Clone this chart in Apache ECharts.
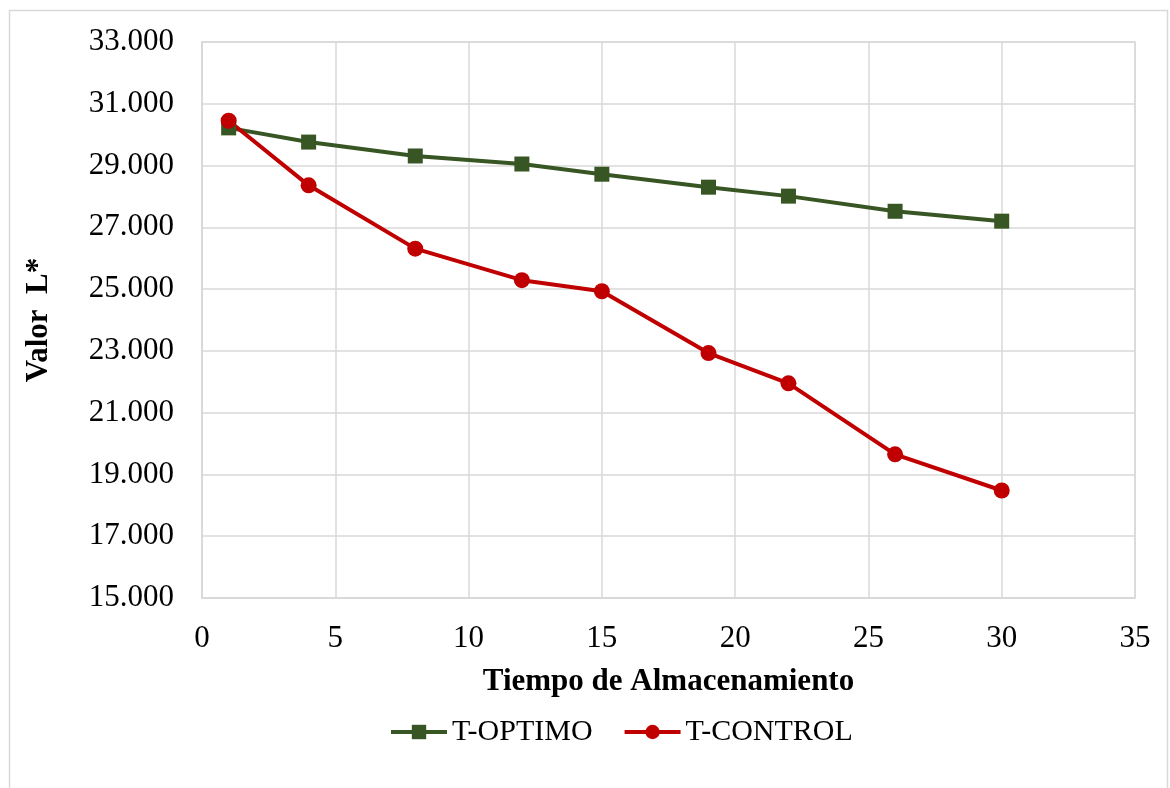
<!DOCTYPE html>
<html>
<head>
<meta charset="utf-8">
<script src="https://cdn.jsdelivr.net/npm/echarts@6/dist/echarts.min.js"></script>
<style>
  html, body { margin: 0; padding: 0; background: #fff; }
  #chart { width: 1170px; height: 788px; }
</style>
</head>
<body>
<div id="chart"></div>
<script>
// dias de almacenamiento
const dias = [1, 4, 8, 12, 15, 19, 22, 26, 30];
const tOptimo = [30.22, 29.76, 29.31, 29.05, 28.72, 28.30, 28.01, 27.52, 27.20];
const tControl = [30.45, 28.36, 26.31, 25.29, 24.93, 22.93, 21.95, 19.65, 18.48];

const toPairs = (xs, ys) => xs.map((x, i) => [x, ys[i]]);

const font = '"Liberation Serif", "Times New Roman", serif';
const gridColor = '#d9d9d9';

const chart = echarts.init(document.getElementById('chart'));
chart.setOption({
  animation: false,
  backgroundColor: '#fff',
  textStyle: { fontFamily: font, color: '#000' },
  graphic: [{
    type: 'rect',
    shape: { x: 9.5, y: 10.5, width: 1158, height: 800 },
    style: { fill: 'none', stroke: gridColor, lineWidth: 1.5 },
    silent: true
  }],
  grid: { left: 202, right: 35, top: 42, bottom: 190, show: true, borderColor: gridColor, borderWidth: 1.5 },
  legend: {
    bottom: 36,
    left: 384,
    itemWidth: 56,
    itemHeight: 18,
    itemGap: 30,
    lineStyle: { width: 4 },
    textStyle: { fontFamily: font, fontSize: 30, color: '#000' },
    data: ['T-OPTIMO', 'T-CONTROL']
  },
  xAxis: {
    type: 'value',
    min: 0, max: 35, interval: 5,
    name: 'Tiempo de Almacenamiento',
    nameLocation: 'middle',
    nameGap: 68,
    nameTextStyle: { fontFamily: font, fontSize: 31, fontWeight: 'bold', color: '#000' },
    axisLine: { show: true, lineStyle: { color: gridColor, width: 1.5 } },
    axisTick: { show: false },
    axisLabel: { fontFamily: font, fontSize: 31, color: '#000', margin: 25 },
    splitLine: { show: true, lineStyle: { color: gridColor, width: 1.5 } }
  },
  yAxis: {
    type: 'value',
    min: 15, max: 33, interval: 2,
    name: 'Valor  L*',
    nameLocation: 'middle',
    nameGap: 148,
    nameTextStyle: { fontFamily: font, fontSize: 31, fontWeight: 'bold', color: '#000' },
    axisLine: { show: true, lineStyle: { color: gridColor, width: 1.5 } },
    axisTick: { show: false },
    axisLabel: {
      fontFamily: font, fontSize: 31, color: '#000', margin: 28,
      formatter: v => v.toFixed(3)
    },
    splitLine: { show: true, lineStyle: { color: gridColor, width: 1.5 } }
  },
  series: [
    {
      name: 'T-OPTIMO',
      type: 'line',
      data: toPairs(dias, tOptimo),
      symbol: 'rect',
      symbolSize: 15,
      lineStyle: { color: '#375623', width: 4 },
      itemStyle: { color: '#375623' }
    },
    {
      name: 'T-CONTROL',
      type: 'line',
      data: toPairs(dias, tControl),
      symbol: 'circle',
      symbolSize: 16,
      lineStyle: { color: '#c00000', width: 4 },
      itemStyle: { color: '#c00000' }
    }
  ]
});
</script>
</body>
</html>
